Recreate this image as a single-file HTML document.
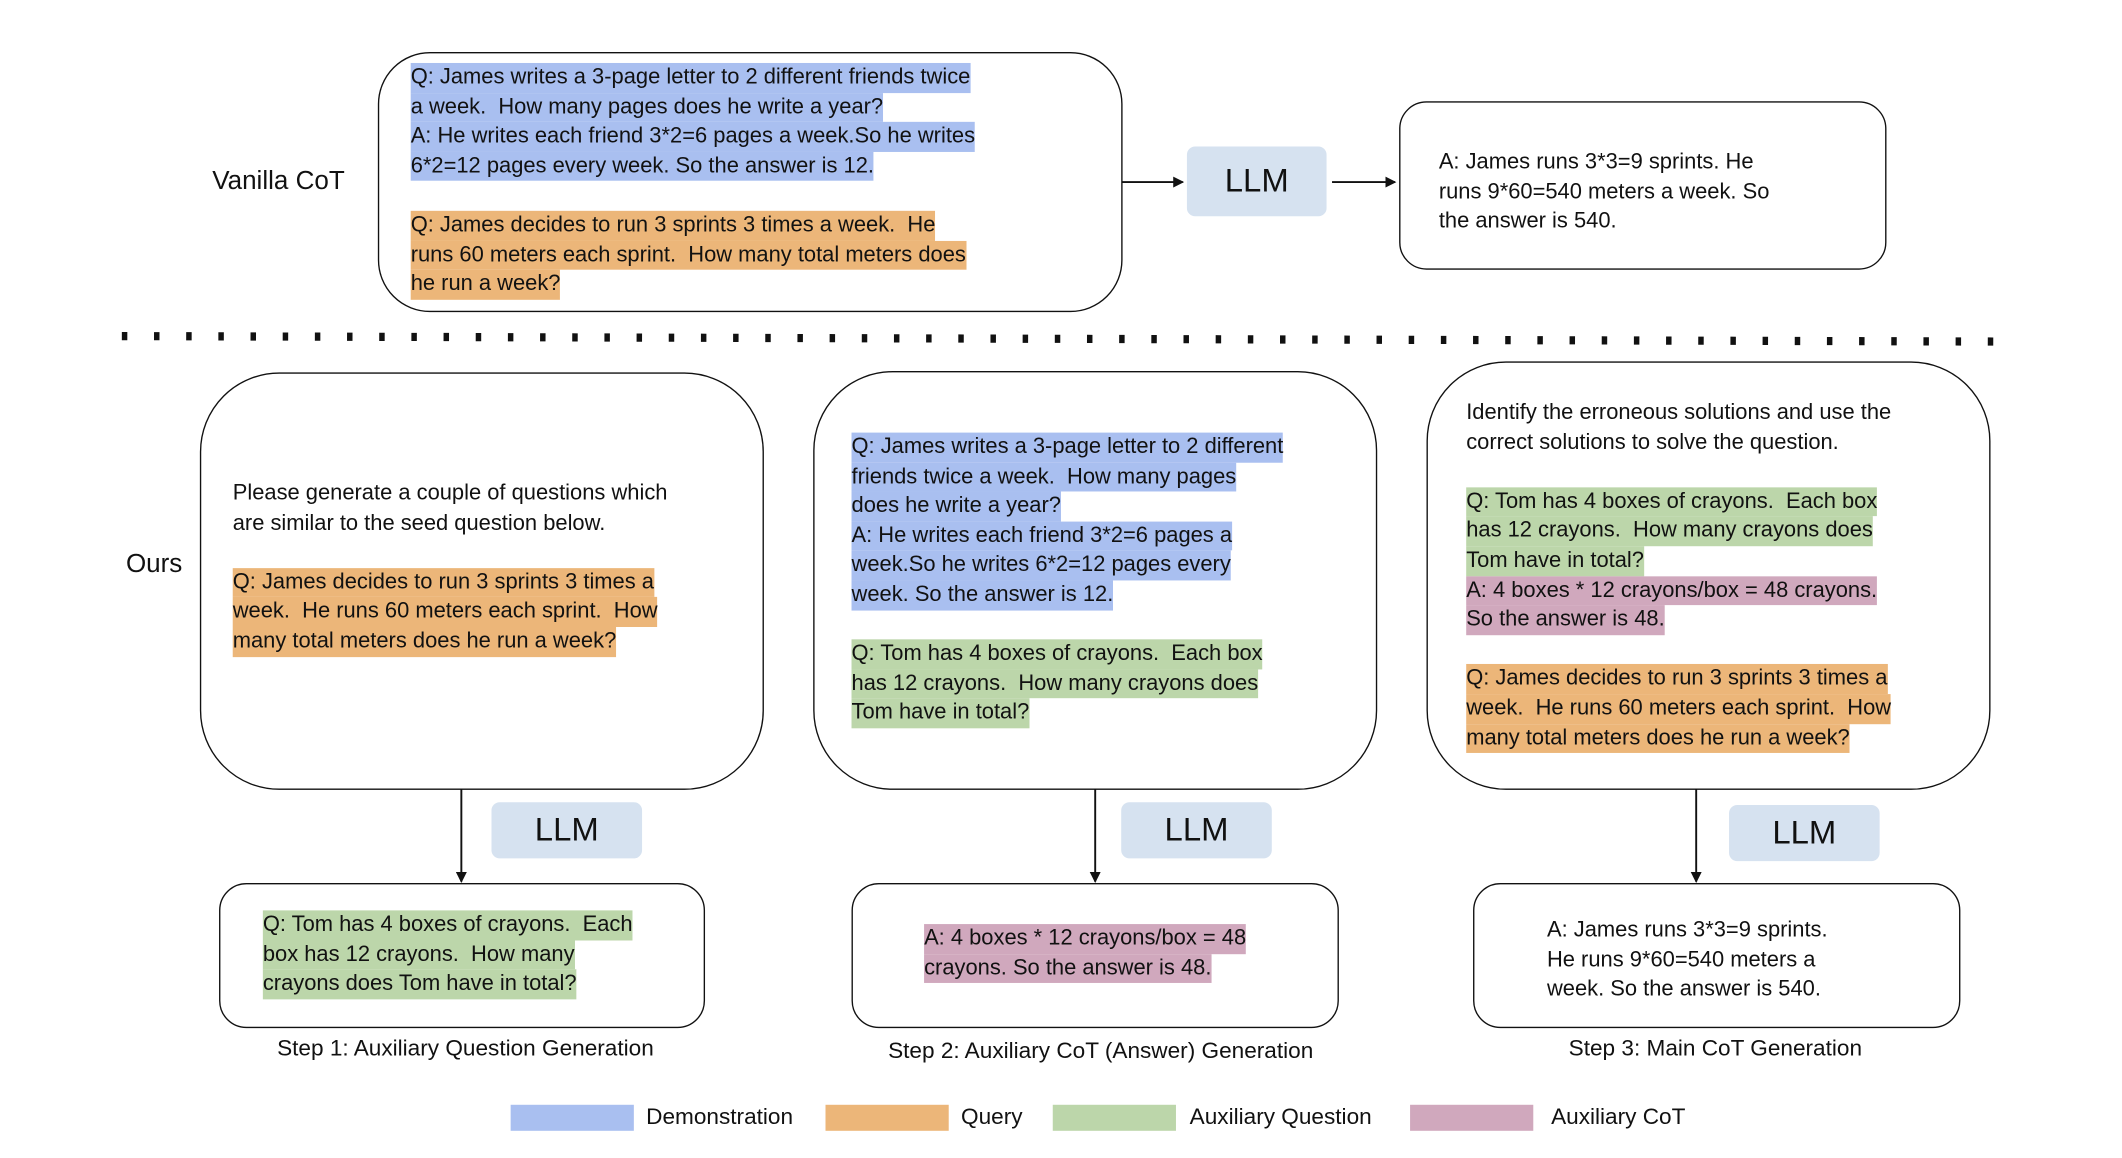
<!DOCTYPE html>
<html><head><meta charset="utf-8"><style>
html,body{margin:0;padding:0;background:#fff;width:2122px;height:1158px;overflow:hidden}
#s{position:absolute;left:0;top:0;width:1550px;height:846px;transform:scale(1.369);transform-origin:0 0;font-family:"Liberation Sans",Arial,sans-serif;color:#111}
.a{position:absolute}
.box{position:absolute;border:1.6px solid #111;box-sizing:border-box;background:#fff}
.t{position:absolute;font-size:16px}
.t div{display:table;height:21.6px;line-height:21.6px;white-space:pre}
.b{background:#a9bff0}.o{background:#ecb679}.g{background:#bcd6aa}.p{background:#d0a8bd}
.llm{position:absolute;background:#d6e2f0;border-radius:6px;font-size:24px;text-align:center}
.lab{position:absolute;font-size:19px;white-space:nowrap}
.cap{position:absolute;font-size:16.5px;white-space:nowrap;text-align:center}
</style></head><body><div id="s">
<svg class="a" style="left:0;top:0" width="1550" height="846">
<defs><marker id="ar" markerWidth="8" markerHeight="8" refX="7" refY="4" orient="auto" markerUnits="userSpaceOnUse"><path d="M0,0 L8,4 L0,8 z" fill="#111"/></marker></defs>
<line x1="819" y1="133" x2="864" y2="133" stroke="#111" stroke-width="1.4" marker-end="url(#ar)"/>
<line x1="973" y1="133" x2="1019" y2="133" stroke="#111" stroke-width="1.4" marker-end="url(#ar)"/>
<line x1="89" y1="245.5" x2="1460" y2="249.5" stroke="#111" stroke-width="6" stroke-dasharray="4 19.5"/>
<line x1="337" y1="576" x2="337" y2="644" stroke="#111" stroke-width="1.4" marker-end="url(#ar)"/>
<line x1="800" y1="576" x2="800" y2="644" stroke="#111" stroke-width="1.4" marker-end="url(#ar)"/>
<line x1="1239" y1="576" x2="1239" y2="644" stroke="#111" stroke-width="1.4" marker-end="url(#ar)"/>
</svg>
<div class="lab" style="left:155px;top:122px">Vanilla CoT</div>
<div class="lab" style="left:92px;top:402px">Ours</div>

<div class="box" style="left:276px;top:38px;width:544px;height:190px;border-radius:38px"></div>
<div class="t" style="left:300px;top:46px">
<div class="b">Q: James writes a 3-page letter to 2 different friends twice</div>
<div class="b">a week.  How many pages does he write a year?</div>
<div class="b">A: He writes each friend 3*2=6 pages a week.So he writes</div>
<div class="b">6*2=12 pages every week. So the answer is 12.</div>
<div> </div>
<div class="o">Q: James decides to run 3 sprints 3 times a week.  He</div>
<div class="o">runs 60 meters each sprint.  How many total meters does</div>
<div class="o">he run a week?</div>
</div>
<div class="llm" style="left:867px;top:107px;width:102px;height:51px;line-height:51px">LLM</div>
<div class="box" style="left:1022px;top:74px;width:356px;height:123px;border-radius:20px"></div>
<div class="t" style="left:1051px;top:108px">
<div>A: James runs 3*3=9 sprints. He</div>
<div>runs 9*60=540 meters a week. So</div>
<div>the answer is 540.</div>
</div>

<div class="box" style="left:146px;top:272px;width:412px;height:305px;border-radius:58px"></div>
<div class="t" style="left:170px;top:350px">
<div>Please generate a couple of questions which</div>
<div>are similar to the seed question below.</div>
<div> </div>
<div class="o">Q: James decides to run 3 sprints 3 times a</div>
<div class="o">week.  He runs 60 meters each sprint.  How</div>
<div class="o">many total meters does he run a week?</div>
</div>

<div class="box" style="left:594px;top:271px;width:412px;height:306px;border-radius:58px"></div>
<div class="t" style="left:622px;top:316px">
<div class="b">Q: James writes a 3-page letter to 2 different</div>
<div class="b">friends twice a week.  How many pages</div>
<div class="b">does he write a year?</div>
<div class="b">A: He writes each friend 3*2=6 pages a</div>
<div class="b">week.So he writes 6*2=12 pages every</div>
<div class="b">week. So the answer is 12.</div>
<div> </div>
<div class="g">Q: Tom has 4 boxes of crayons.  Each box</div>
<div class="g">has 12 crayons.  How many crayons does</div>
<div class="g">Tom have in total?</div>
</div>

<div class="box" style="left:1042px;top:264px;width:412px;height:313px;border-radius:58px"></div>
<div class="t" style="left:1071px;top:291px">
<div>Identify the erroneous solutions and use the</div>
<div>correct solutions to solve the question.</div>
<div> </div>
<div class="g">Q: Tom has 4 boxes of crayons.  Each box</div>
<div class="g">has 12 crayons.  How many crayons does</div>
<div class="g">Tom have in total?</div>
<div class="p">A: 4 boxes * 12 crayons/box = 48 crayons.</div>
<div class="p">So the answer is 48.</div>
<div> </div>
<div class="o">Q: James decides to run 3 sprints 3 times a</div>
<div class="o">week.  He runs 60 meters each sprint.  How</div>
<div class="o">many total meters does he run a week?</div>
</div>

<div class="llm" style="left:359px;top:586px;width:110px;height:41px;line-height:41px">LLM</div>
<div class="llm" style="left:819px;top:586px;width:110px;height:41px;line-height:41px">LLM</div>
<div class="llm" style="left:1263px;top:588px;width:110px;height:41px;line-height:41px">LLM</div>

<div class="box" style="left:160px;top:645px;width:355px;height:106px;border-radius:20px"></div>
<div class="t" style="left:192px;top:665px">
<div class="g">Q: Tom has 4 boxes of crayons.  Each</div>
<div class="g">box has 12 crayons.  How many</div>
<div class="g">crayons does Tom have in total?</div>
</div>
<div class="box" style="left:622px;top:645px;width:356px;height:106px;border-radius:20px"></div>
<div class="t" style="left:675px;top:675px">
<div class="p">A: 4 boxes * 12 crayons/box = 48</div>
<div class="p">crayons. So the answer is 48.</div>
</div>
<div class="box" style="left:1076px;top:645px;width:356px;height:106px;border-radius:20px"></div>
<div class="t" style="left:1130px;top:669px">
<div>A: James runs 3*3=9 sprints.</div>
<div>He runs 9*60=540 meters a</div>
<div>week. So the answer is 540.</div>
</div>

<div class="cap" style="left:140px;width:400px;top:757px">Step 1: Auxiliary Question Generation</div>
<div class="cap" style="left:604px;width:400px;top:759px">Step 2: Auxiliary CoT (Answer) Generation</div>
<div class="cap" style="left:1053px;width:400px;top:757px">Step 3:  Main CoT Generation</div>

<div class="a b" style="left:373px;top:807px;width:90px;height:19px"></div>
<div class="cap" style="left:472px;top:807px">Demonstration</div>
<div class="a o" style="left:603px;top:807px;width:90px;height:19px"></div>
<div class="cap" style="left:702px;top:807px">Query</div>
<div class="a g" style="left:769px;top:807px;width:90px;height:19px"></div>
<div class="cap" style="left:869px;top:807px">Auxiliary Question</div>
<div class="a p" style="left:1030px;top:807px;width:90px;height:19px"></div>
<div class="cap" style="left:1133px;top:807px">Auxiliary CoT</div>
</div></body></html>
